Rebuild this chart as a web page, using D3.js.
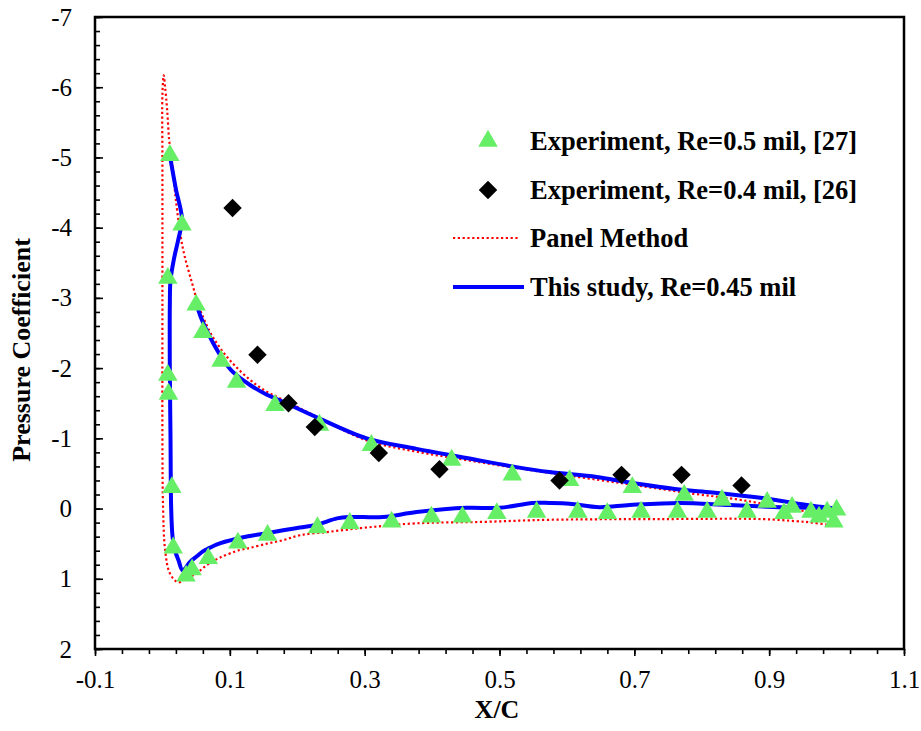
<!DOCTYPE html>
<html>
<head>
<meta charset="utf-8">
<script src="https://cdn.jsdelivr.net/npm/d3@7"></script>
<style>
  html, body { margin: 0; padding: 0; background: #fff; }
  svg text { font-family: "Liberation Serif", "Times New Roman", serif; fill: #000; }
</style>
</head>
<body>
<svg id="chart" width="921" height="731"></svg>
<script>
// Axis tick labels
const xMajorTicks = [-0.1, 0.1, 0.3, 0.5, 0.7, 0.9, 1.1];
const yMajorTicks = [-7, -6, -5, -4, -3, -2, -1, 0, 1, 2];

// Legend entries
const legendLabels = [
  "Experiment, Re=0.5 mil, [27]",
  "Experiment, Re=0.4 mil, [26]",
  "Panel Method",
  "This study, Re=0.45 mil"
];

// Experiment, Re=0.5 mil : [x/c, Cp]
const expRe05 = [
  [0.011, -5.03], [0.029, -4.04], [0.008, -3.28], [0.050, -2.90], [0.060, -2.51],
  [0.087, -2.10], [0.110, -1.80], [0.167, -1.47], [0.233, -1.19], [0.310, -0.90],
  [0.429, -0.69], [0.519, -0.48], [0.604, -0.40], [0.697, -0.30], [0.774, -0.19],
  [0.830, -0.12], [0.897, -0.09], [0.934, -0.02], [0.962, 0.05], [0.986, 0.05],
  [1.000, 0.02], [0.996, 0.19],
  [0.008, -1.90], [0.009, -1.63], [0.014, -0.30], [0.016, 0.56], [0.035, 0.96],
  [0.044, 0.87], [0.068, 0.71], [0.112, 0.49], [0.156, 0.38], [0.230, 0.27],
  [0.278, 0.21], [0.340, 0.19], [0.399, 0.12], [0.445, 0.12], [0.496, 0.07],
  [0.555, 0.05], [0.616, 0.05], [0.660, 0.07], [0.710, 0.05], [0.764, 0.05],
  [0.808, 0.05], [0.867, 0.05], [0.922, 0.07], [0.974, 0.12]
];

// Experiment, Re=0.4 mil : [x/c, Cp]
const expRe04 = [
  [0.104, -4.28], [0.141, -2.19], [0.187, -1.50], [0.226, -1.16], [0.321, -0.79],
  [0.411, -0.56], [0.589, -0.40], [0.681, -0.48], [0.770, -0.48], [0.859, -0.33]
];

// Panel method, traced upper TE -> leading edge -> lower TE
const panelMethod = [
  [0.993, 0.08], [0.974, 0.06], [0.940, 0.02], [0.860, -0.12], [0.781, -0.22],
  [0.682, -0.36], [0.544, -0.55], [0.451, -0.69], [0.377, -0.81], [0.303, -0.97],
  [0.229, -1.31], [0.189, -1.50], [0.144, -1.73], [0.104, -2.07], [0.075, -2.44],
  [0.056, -2.83], [0.044, -3.21], [0.030, -3.72], [0.020, -4.39], [0.017, -4.68],
  [0.014, -4.96], [0.010, -5.25], [0.007, -5.68], [0.004, -6.00], [0.002, -6.17],
  [0.000, -5.90], [0.000, -5.00], [0.000, -3.00], [0.000, -1.00], [0.001, 0.00],
  [0.004, 0.59], [0.011, 0.92], [0.023, 1.05], [0.035, 1.00], [0.051, 0.92],
  [0.065, 0.81], [0.085, 0.70], [0.115, 0.59], [0.130, 0.56], [0.155, 0.50],
  [0.179, 0.45], [0.204, 0.38], [0.248, 0.33], [0.303, 0.27], [0.377, 0.21],
  [0.475, 0.19], [0.574, 0.16], [0.741, 0.15], [0.890, 0.15], [0.940, 0.18],
  [0.964, 0.20], [0.993, 0.24]
];

// This study, upper surface
const thisStudyUpper = [
  [0.051, -2.90], [0.056, -2.75], [0.065, -2.55], [0.075, -2.36], [0.090, -2.12],
  [0.104, -1.95], [0.130, -1.76], [0.155, -1.62], [0.179, -1.52], [0.229, -1.30],
  [0.303, -1.00], [0.377, -0.85], [0.451, -0.72], [0.525, -0.59], [0.574, -0.52],
  [0.644, -0.45], [0.693, -0.37], [0.767, -0.27], [0.816, -0.23], [0.890, -0.15],
  [0.964, -0.04], [0.999, 0.00]
];

// This study, suction peak + leading edge + lower surface
const thisStudyLower = [
  [0.011, -5.03], [0.020, -4.55], [0.029, -4.12], [0.024, -3.85], [0.017, -3.55],
  [0.012, -3.25], [0.011, -2.90], [0.011, -2.00], [0.012, -1.00], [0.013, 0.00],
  [0.015, 0.40], [0.018, 0.58], [0.024, 0.74], [0.030, 0.88], [0.041, 0.76],
  [0.051, 0.68], [0.060, 0.61], [0.070, 0.56], [0.081, 0.51], [0.110, 0.43],
  [0.130, 0.39], [0.155, 0.35], [0.179, 0.31], [0.204, 0.27], [0.229, 0.23],
  [0.259, 0.14], [0.278, 0.12], [0.327, 0.12], [0.377, 0.05], [0.451, -0.01],
  [0.500, -0.01], [0.549, -0.08], [0.574, -0.08], [0.604, -0.07], [0.648, -0.02],
  [0.693, -0.05], [0.767, -0.08], [0.841, -0.05], [0.915, -0.02], [0.964, -0.01],
  [0.999, 0.00]
];

const svg = d3.select("#chart");
const plot = { left: 95, right: 904, top: 17, bottom: 649 };

const x = d3.scaleLinear().domain([-0.1, 1.1]).range([plot.left, plot.right]);
const y = d3.scaleLinear().domain([-7, 2]).range([plot.top, plot.bottom]);

const GREEN = "#66ee66";
const BLUE = "#0000ff";
const RED = "#ff0000";
const FONT = "'Liberation Serif', 'Times New Roman', serif";

// ---- axes ----
const xMinor = d3.range(0, 31).map(i => +(-0.1 + i * 0.04).toFixed(2));
const yMinor = d3.range(0, 46).map(i => +(-7 + i * 0.2).toFixed(1));

svg.append("g")
  .attr("transform", `translate(0,${plot.bottom})`)
  .call(d3.axisBottom(x).tickValues(xMinor).tickSize(5).tickFormat(""))
  .call(g => g.select(".domain").remove())
  .call(g => g.selectAll("line").attr("stroke-width", 1.6));

svg.append("g")
  .attr("transform", `translate(0,${plot.bottom})`)
  .call(d3.axisBottom(x).tickValues(xMajorTicks).tickSize(7).tickPadding(14)
    .tickFormat(d => d.toFixed(1)))
  .call(g => g.select(".domain").remove())
  .call(g => g.selectAll("line").attr("stroke-width", 1.6))
  .call(g => g.selectAll("text").attr("font-size", 25).attr("font-family", FONT));

svg.append("g")
  .attr("transform", `translate(${plot.left},0)`)
  .call(d3.axisLeft(y).tickValues(yMinor).tickSize(-5).tickFormat(""))
  .call(g => g.select(".domain").remove())
  .call(g => g.selectAll("line").attr("stroke-width", 1.6));

svg.append("g")
  .attr("transform", `translate(${plot.left},0)`)
  .call(d3.axisLeft(y).tickValues(yMajorTicks).tickSize(-8).tickPadding(23)
    .tickFormat(d => String(d)))
  .call(g => g.select(".domain").remove())
  .call(g => g.selectAll("line").attr("stroke-width", 1.6))
  .call(g => g.selectAll("text").attr("font-size", 25).attr("font-family", FONT));

// plot frame
svg.append("rect")
  .attr("x", plot.left).attr("y", plot.top)
  .attr("width", plot.right - plot.left).attr("height", plot.bottom - plot.top)
  .attr("fill", "none").attr("stroke", "#000").attr("stroke-width", 2.5);

// axis titles
svg.append("text")
  .attr("transform", `translate(30,350) rotate(-90)`)
  .attr("text-anchor", "middle")
  .attr("font-size", 26).attr("font-weight", "bold")
  .text("Pressure Coefficient");

svg.append("text")
  .attr("x", 497).attr("y", 718)
  .attr("text-anchor", "middle")
  .attr("font-size", 26).attr("font-weight", "bold")
  .text("X/C");

// ---- curves ----
const line = d3.line()
  .x(d => x(d[0])).y(d => y(d[1]))
  .curve(d3.curveCatmullRom.alpha(0.5));

svg.append("path").datum(panelMethod)
  .attr("d", line).attr("fill", "none")
  .attr("stroke", RED).attr("stroke-width", 2.2)
  .attr("stroke-dasharray", "2.2,2.6");

[thisStudyUpper, thisStudyLower].forEach(series => {
  svg.append("path").datum(series)
    .attr("d", line).attr("fill", "none")
    .attr("stroke", BLUE).attr("stroke-width", 4)
    .attr("stroke-linejoin", "round");
});

// ---- markers ----
const triangle = d3.symbol().type(d3.symbolTriangle).size(165);
const diamond = d3.symbol().type(d3.symbolSquare).size(170);

svg.append("g").selectAll("path").data(expRe05).join("path")
  .attr("d", triangle)
  .attr("transform", d => `translate(${x(d[0])},${y(d[1])})`)
  .attr("fill", GREEN);

svg.append("g").selectAll("path").data(expRe04).join("path")
  .attr("d", diamond)
  .attr("transform", d => `translate(${x(d[0])},${y(d[1])}) rotate(45)`)
  .attr("fill", "#000");

// ---- legend ----
const legend = svg.append("g");
const rowsY = [141, 190, 238, 287];
const textX = 530;

legend.append("path").attr("d", triangle)
  .attr("transform", `translate(488,${rowsY[0]})`).attr("fill", GREEN);
legend.append("path").attr("d", diamond)
  .attr("transform", `translate(488,${rowsY[1]}) rotate(45)`).attr("fill", "#000");
legend.append("line")
  .attr("x1", 453).attr("x2", 519).attr("y1", rowsY[2]).attr("y2", rowsY[2])
  .attr("stroke", RED).attr("stroke-width", 2.2).attr("stroke-dasharray", "2.2,2.6");
legend.append("line")
  .attr("x1", 453).attr("x2", 524).attr("y1", rowsY[3]).attr("y2", rowsY[3])
  .attr("stroke", BLUE).attr("stroke-width", 4);

legend.selectAll("text").data(legendLabels).join("text")
  .attr("x", textX)
  .attr("y", (d, i) => rowsY[i] + 9)
  .attr("font-size", 26.5).attr("font-weight", "bold")
  .text(d => d);
</script>
</body>
</html>
